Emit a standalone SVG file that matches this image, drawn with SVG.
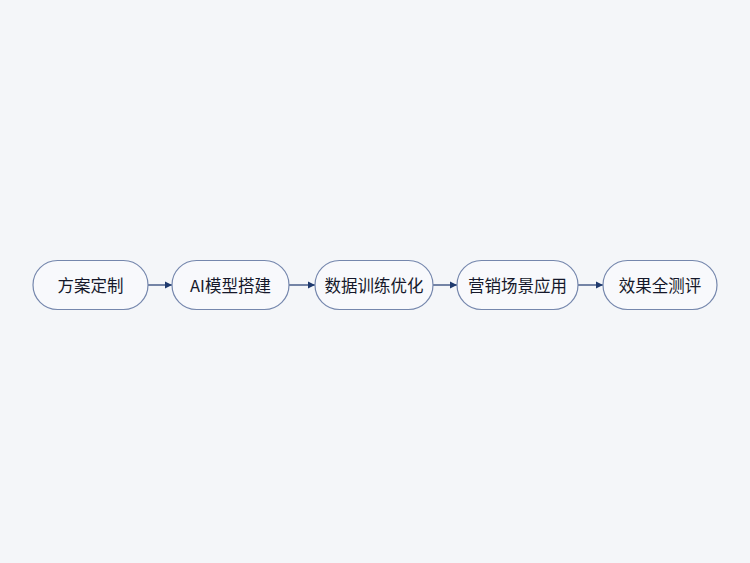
<svg xmlns="http://www.w3.org/2000/svg" width="750" height="563" viewBox="0 0 750 563">
<defs>
<marker id="arr" markerWidth="8" markerHeight="8" refX="7" refY="4" orient="auto" markerUnits="userSpaceOnUse">
<path d="M0,0.5 L7,4 L0,7.5 Z" fill="#1f3a6e"/>
</marker>
</defs>
<style>
.node rect{fill:#f8f9fc;stroke:#7587ad;stroke-width:1.2}
.node text{font-family:"Noto Sans CJK SC","Noto Sans",sans-serif;font-size:16.5px;font-weight:400;fill:#15182a;text-anchor:middle;dominant-baseline:central}
.edge{stroke:#1f3a6e;stroke-width:1.2;fill:none;marker-end:url(#arr)}
</style>
<rect width="750" height="563" fill="#f4f6f9"/>
<g id="connectors">
<line class="edge" x1="148" y1="285" x2="172" y2="285"/>
<line class="edge" x1="289" y1="285" x2="315" y2="285"/>
<line class="edge" x1="433" y1="285" x2="457" y2="285"/>
<line class="edge" x1="578" y1="285" x2="603" y2="285"/>
</g>
<g id="n1" class="node"><rect x="33" y="260.5" width="115" height="49" rx="24.5"/><text x="90.5" y="285">方案定制</text></g>
<g id="n2" class="node"><rect x="172" y="260.5" width="117" height="49" rx="24.5"/><text x="230.5" y="285">AI模型搭建</text></g>
<g id="n3" class="node"><rect x="315" y="260.5" width="118" height="49" rx="24.5"/><text x="374" y="285">数据训练优化</text></g>
<g id="n4" class="node"><rect x="457" y="260.5" width="121" height="49" rx="24.5"/><text x="517.5" y="285">营销场景应用</text></g>
<g id="n5" class="node"><rect x="603" y="260.5" width="114" height="49" rx="24.5"/><text x="660" y="285">效果全测评</text></g>
</svg>
